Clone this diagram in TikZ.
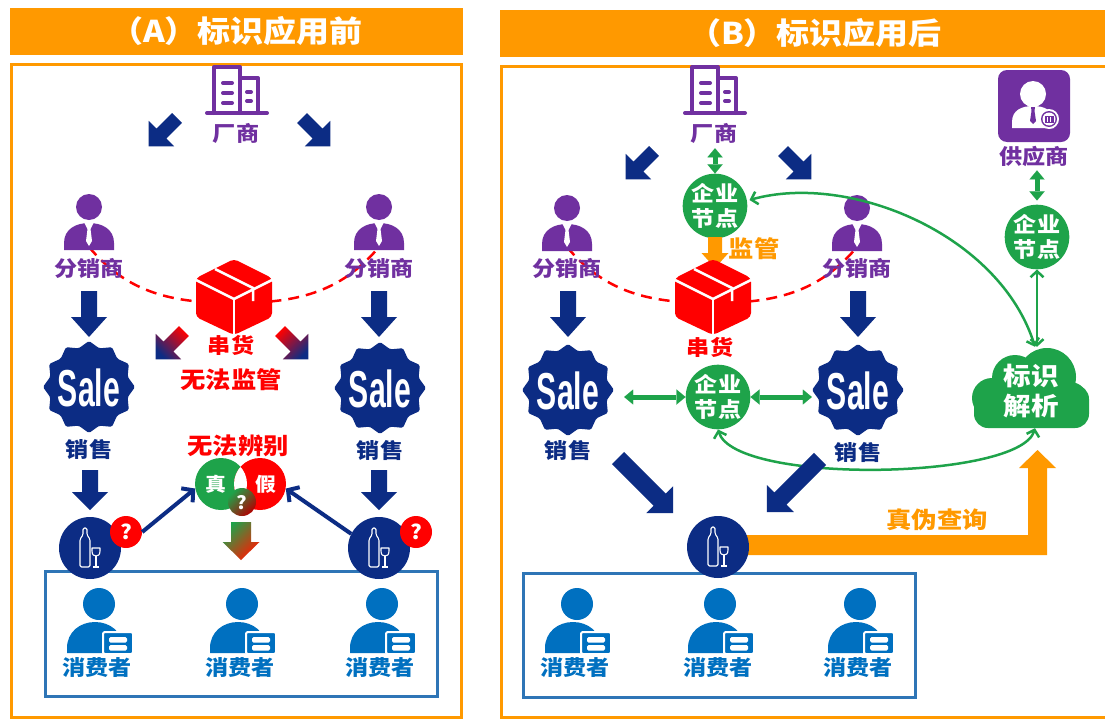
\documentclass[tikz,border=0pt]{standalone}
\usepackage{fontspec}
\usepackage{graphicx}
\setmainfont{Noto Sans CJK SC}[FakeStretch=1.1]
\newfontfamily\salefont{Liberation Sans}
\usetikzlibrary{arrows.meta,calc}

\definecolor{orng}{HTML}{FF9900}
\definecolor{navy}{HTML}{0C2C84}
\definecolor{purp}{HTML}{7030A0}
\definecolor{redc}{HTML}{FF0000}
\definecolor{grn}{HTML}{1EA34A}
\definecolor{cblue}{HTML}{0070C0}
\definecolor{boxblue}{HTML}{2E75B6}

% block arrow: [style]{tail x}{tail y}{angle}{length}{shaft half-width}{head half-width}{head length}
\newcommand\barrow[8][]{%
  \begin{scope}[shift={(#2,#3)},rotate=#4]
    \path[#1] (0,-#6) -- ({#5-#8},-#6) -- ({#5-#8},-#7) -- (#5,0)
      -- ({#5-#8},#7) -- ({#5-#8},#6) -- (0,#6) -- cycle;
  \end{scope}}

% office building outline
\newcommand\building[2]{%
  \begin{scope}[shift={(#1,#2)},line width=4pt,line join=round,line cap=round]
    \draw[purp] (-23,23) -- (-23,-23) -- (3,-23) -- (3,23);
    \draw[purp] (3,-12) -- (21,-12) -- (21,23);
    \draw[purp] (-30,23) -- (30,23);
    \foreach \v in {-7,3,13} \draw[purp] (-14,\v) -- (-5,\v);
    \foreach \v in {2,11} \draw[purp] (10,\v) -- (14,\v);
  \end{scope}}

% distributor figure (head centre given)
\newcommand\person[2]{%
  \begin{scope}[shift={(#1,#2)}]
    \fill[purp] (0,0) circle (13);
    \fill[purp] (-25,43) -- (-25,36) .. controls (-25,22) and (-13,16) .. (0,16)
      .. controls (13,16) and (25,22) .. (25,36) -- (25,43) -- cycle;
    \fill[white] (-4.5,16) -- (4.5,16) -- (1.5,22) -- (3,34) -- (0,39) -- (-3,34) -- (-1.5,22) -- cycle;
  \end{scope}}

% consumer figure with card (head centre given)
\newcommand\consumer[2]{%
  \begin{scope}[shift={(#1,#2)}]
    \fill[cblue] (0,0) circle (16);
    \fill[cblue] (-32,49) -- (-32,44) .. controls (-32,28) and (-19,18) .. (-4,18)
      .. controls (11,18) and (24,28) .. (24,44) -- (24,49) -- cycle;
    \filldraw[fill=cblue,draw=white,line width=2pt,rounded corners=2pt] (4,28) rectangle (34,50);
    \fill[white,rounded corners=1.5pt] (10,33) rectangle (28,38.5);
    \fill[white,rounded corners=1.5pt] (10,41) rectangle (28,46.5);
  \end{scope}}

% parcel
\newcommand\parcel[2]{%
  \begin{scope}[shift={(#1,#2)}]
    \fill[redc,rounded corners=4pt] (0,-38) -- (38,-19) -- (38,20) -- (0,38) -- (-38,20) -- (-38,-19) -- cycle;
    \draw[white,line width=2.5pt,line join=round] (-38,-17) -- (0,2) -- (38,-17);
    \draw[white,line width=2.5pt] (0,2) -- (0,38);
    \draw[white,line width=2.5pt] (-19,-28) -- (19,-9) -- (19,4);
  \end{scope}}

% sale badge: {name}{x}{y}
\newcommand\salebadge[3]{%
  \node[circle,minimum size=92pt,inner sep=0pt] (#1) at (#2,#3) {};
  \begin{scope}[shift={(#2,#3)}]
    \fill[navy,rounded corners=1.5pt] (0:46) \foreach \i in {1,...,23} { -- ({\i*15}:{46-6*mod(\i,2)}) } -- cycle;
    \node[text=white,inner sep=0pt] (#1-t) at (0,1) {\scalebox{0.58}[1]{\salefont\bfseries\fontsize{52}{52}\selectfont Sale}};
  \end{scope}}

% bottle and glass in a disc: {name}{x}{y}
\newcommand\bottle[3]{%
  \node[circle,fill=navy,minimum size=62pt,inner sep=0pt] (#1) at (#2,#3) {};
  \begin{scope}[shift={(#2,#3)},line width=1.1pt,line join=round]
    \draw[white,rounded corners=1.5pt] (-7,-20) -- (-3,-20) -- (-3,-13) -- (0,-9) -- (0,19) -- (-10,19) -- (-10,-9) -- (-7,-13) -- cycle;
    \draw[white] (2,0) -- (10,0) -- (10,3) .. controls (10,7) and (8,8) .. (6,8) .. controls (4,8) and (2,7) .. (2,3) -- cycle;
    \draw[white] (6,8) -- (6,19);
    \draw[white] (3,19) -- (9,19);
  \end{scope}}

\begin{document}
\begin{tikzpicture}[x=1pt,y=-1pt,
  txt/.style={inner sep=0pt,font=\bfseries\fontsize{#1}{#1}\selectfont},
  txt/.default=21,
  hdr/.style={fill=orng,minimum height=47pt,inner sep=0pt,text=white,font=\bfseries\fontsize{30}{32}\selectfont},
  enode/.style={circle,fill=grn,minimum size=63pt,inner sep=0pt,text=white,align=center,font=\bfseries\fontsize{21}{25}\selectfont},
  qmark/.style={circle,fill=redc,minimum size=32pt,inner sep=0pt,text=white,font=\bfseries\fontsize{20}{20}\selectfont},
  gblock/.style={grn,line width=5pt,{Triangle[width=15pt,length=9pt,line width=0.01pt]}-{Triangle[width=15pt,length=9pt,line width=0.01pt]}},
  gthin/.style={grn,line width=2.5pt,{Straight Barb[length=6pt,width=13pt]}-{Straight Barb[length=6pt,width=13pt]}},
  nthin/.style={navy,line width=4pt,-{Straight Barb[length=8pt,width=18pt]}},
  reddash/.style={redc,line width=2.5pt,dash pattern=on 11pt off 7pt}]
\useasboundingbox (0,0) rectangle (1105,720);
\fill[white] (0,0) rectangle (1105,720);

% ---------- headers and frames ----------
\node[hdr,minimum width=453pt] (titleA) at (236.5,31.5) {（A）标识应用前};
\node[hdr,minimum width=630pt] (titleB) at (815,33.5) {（B）标识应用后};
\draw[orng,line width=3pt] (11.5,64.5) rectangle (461.5,717.5);
\draw[orng,line width=3pt] (501.5,66.5) rectangle (1130,717.5);

% ================= panel A =================
\draw[boxblue,line width=3pt] (45,571) rectangle (437,696);
\consumer{99}{604}  \node[txt,text=cblue] (cA1) at (97,668) {消费者};
\consumer{242}{604} \node[txt,text=cblue] (cA2) at (240,668) {消费者};
\consumer{382}{604} \node[txt,text=cblue] (cA3) at (380,668) {消费者};

\building{237}{90}
\node[txt,text=purp] (mA) at (236,133) {厂商};
\barrow[fill=navy]{177}{118}{-135}{40}{7}{18}{18}
\barrow[fill=navy]{302}{118}{-45}{40}{7}{18}{18}

\coordinate (dA1) at (89,247);
\coordinate (dA2) at (379,247);
\draw[reddash] (dA1) to[out=-50,in=180] (234,303) to[out=0,in=-130] (dA2);
\person{89}{207}  \node[txt,text=purp] (pA1) at (89,268) {分销商};
\person{379}{207} \node[txt,text=purp] (pA2) at (379,268) {分销商};

\parcel{234}{297}
\node[txt,text=redc] (cxA) at (231,345) {串货};
\node[txt=23,text=redc] (nsA) at (231,380) {无法监管};
\barrow[top color=redc,bottom color=navy,shading angle=-45]{184}{331}{-135}{40}{7}{18}{18}
\barrow[top color=redc,bottom color=navy,shading angle=45]{280}{331}{-45}{40}{7}{18}{18}

\barrow[fill=navy]{89}{291}{-90}{46}{8}{18}{20}
\barrow[fill=navy]{379}{291}{-90}{46}{8}{18}{20}
\salebadge{sA1}{89}{387}
\salebadge{sA2}{380}{388}
\node[txt,text=navy] (xA1) at (89,449) {销售};
\node[txt,text=navy] (xA2) at (380,450) {销售};
\barrow[fill=navy]{90}{470}{-90}{40}{8}{18}{18}
\barrow[fill=navy]{379}{470}{-90}{40}{8}{18}{18}

\bottle{bA1}{90}{548}
\bottle{bA2}{379}{548}
\node[qmark] (qA1) at (126,532) {?};
\node[qmark] (qA2) at (416,532) {?};

% genuine / fake
\node[circle,fill=grn,minimum size=52pt,inner sep=0pt] (vG) at (221,484) {};
\node[circle,fill=redc,minimum size=52pt,inner sep=0pt] (vR) at (260,484) {};
\begin{scope}
  \clip (221,484) circle (26);
  \fill[white] (260,484) circle (26);
\end{scope}
\shade[top color=grn,bottom color=redc!70!black,shading angle=45] (242,502) circle (14);
\node[txt=18,text=white] (qV) at (242,503) {?};
\node[txt=19,text=white] (zhen) at (216,484) {真};
\node[txt=19,text=white] (jia) at (266,484) {假};
\node[txt=23,text=redc] (wfbb) at (238,446) {无法辨别};
\barrow[top color=grn,bottom color=redc!80!orange,shading angle=45]{241}{522}{-90}{38}{10}{18.5}{18}
\draw[nthin] (qA1.east) -- (vG.190);
\draw[nthin] (bA2.153) -- (vR.350);

% ================= panel B =================
\draw[boxblue,line width=3pt] (523,573) rectangle (915,697);
\consumer{577}{604} \node[txt,text=cblue] (cB1) at (575,668) {消费者};
\consumer{720}{604} \node[txt,text=cblue] (cB2) at (718,668) {消费者};
\consumer{860}{604} \node[txt,text=cblue] (cB3) at (858,668) {消费者};

\building{715}{90}
\node[txt,text=purp] (mB) at (714,133) {厂商};
\barrow[fill=navy]{654}{151}{-135}{40}{7}{18}{18}
\barrow[fill=navy]{783}{151}{-45}{40}{7}{18}{18}

\coordinate (dB1) at (567,247);
\coordinate (dB2) at (857,247);
\draw[reddash] (dB1) to[out=-50,in=180] (713,303) to[out=0,in=-130] (dB2);
\person{567}{208} \node[txt,text=purp] (pB1) at (567,268) {分销商};
\person{857}{208} \node[txt,text=purp] (pB2) at (857,268) {分销商};

% links to the identifier resolution cloud
\fill[grn] (992,398) circle (20) (1015,378) circle (23) (1047,377) circle (29) (1070,400) circle (18);
\fill[grn,rounded corners=14pt] (974,385) rectangle (1089,428);
\node[inner sep=0pt,minimum width=116pt,minimum height=80pt] (cloud) at (1031,388) {};
\node[txt=25,text=white,align=center,font=\bfseries\fontsize{25}{30}\selectfont] (cloudt) at (1031,391) {标识\\解析};

\node[enode] (eB1) at (715,206) {企业\\节点};
\node[enode] (eB2) at (718,397) {企业\\节点};
\node[enode] (eB3) at (1037,237) {企业\\节点};

\draw[gthin] ($(eB1.east)+(2,-6)$) .. controls (850,172) and (1000,235) .. ($(cloud.north)+(4,-1)$);
\draw[gthin] (eB2.south) .. controls (735,485) and (1020,480) .. ($(cloud.south)+(4,0)$);
\draw[gthin] (eB3.south) -- ($(cloud.north)+(6,-1)$);

\draw[gblock] ($(mB.south)+(1,5)$) -- (eB1.north);
\barrow[fill=orng]{715}{237}{-90}{31}{7}{13.5}{15}
\node[txt=23,text=orng] (jg) at (754,249) {监管};
\parcel{713}{297}
\node[txt,text=redc] (cxB) at (710,347) {串货};

\barrow[fill=navy]{568}{291}{-90}{46}{8}{18}{20}
\barrow[fill=navy]{858}{291}{-90}{46}{8}{18}{20}
\salebadge{sB1}{568}{390}
\salebadge{sB2}{858}{390}
\node[txt,text=navy] (xB1) at (568,450) {销售};
\node[txt,text=navy] (xB2) at (858,452) {销售};
\draw[gblock,shorten <=10pt] (eB2.west -| sB1.east) -- (eB2.west);
\draw[gblock] (eB2.east) -- (eB2.east -| sB2.west);

% supplier
\fill[purp,rounded corners=9pt] (998,70) rectangle (1070,142);
\fill[white] (1033,94) circle (13);
\fill[white] (1012,128) -- (1012,122) .. controls (1012,110) and (1022,106) .. (1033,106)
  .. controls (1044,106) and (1054,110) .. (1054,122) -- (1054,128) -- cycle;
\fill[purp] (1031,107) -- (1035,107) -- (1034.5,111) -- (1036,121) -- (1033,124) -- (1030,121) -- (1031.5,111) -- cycle;
\fill[white] (1049,119) circle (10);
\fill[purp] (1049,119) circle (8);
\fill[white] (1049,119) circle (6.5);
\fill[purp] (1044.5,115.5) rectangle (1053.5,122.5);
\draw[white,line width=0.8pt] (1047.5,116.5) -- (1047.5,121.5) (1050.5,116.5) -- (1050.5,121.5);
\node[txt,text=purp] (gys) at (1034,156) {供应商};
\draw[gblock,shorten >=4pt] ($(gys.south)+(3,4)$) -- (eB3.north);

% purchase and verification
\barrow[fill=navy]{618}{458}{-45}{78}{8.5}{19}{19}
\barrow[fill=navy]{820}{459}{-135}{75}{8.5}{19}{19}
\fill[orng] (745,535) -- (1028,535) -- (1028,468) -- (1019,468) -- (1037.5,450) -- (1056,468)
  -- (1047,468) -- (1047,555) -- (745,555) -- cycle;
\bottle{bB}{718}{547}
\node[txt=23,text=orng] (zwcx) at (937,520) {真伪查询};
\end{tikzpicture}
\end{document}
